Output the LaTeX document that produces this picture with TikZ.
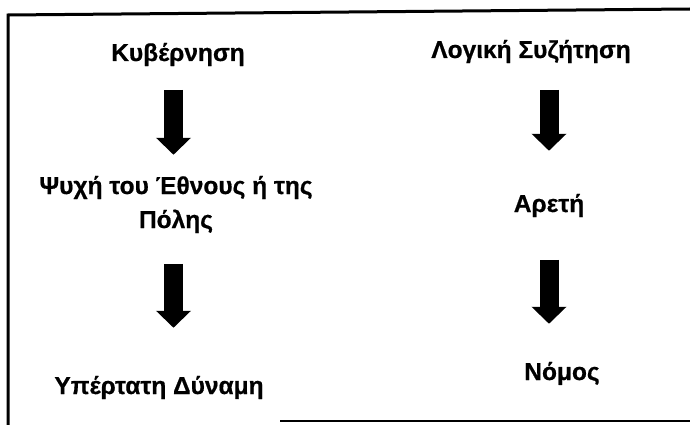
\documentclass[tikz,border=0pt]{standalone}
\usepackage{fontspec}
\setmainfont{Liberation Sans}[BoldFeatures={FakeBold=0.6}]
\usetikzlibrary{arrows.meta,positioning}

\begin{document}
\begin{tikzpicture}[x=1pt,y=-1pt,
    lbl/.style={font=\bfseries\fontsize{24.5}{34}\selectfont,inner sep=0pt,align=center,anchor=base},
    fatarrow/.style={line width=19pt,-{Triangle[length=17pt,width=34pt]}}]
    \useasboundingbox (0,0) rectangle (690,425);
    % frame
    \draw[line width=3pt] (8,425) -- (8,15) -- (690,9);
    \draw[line width=2pt] (280,421) -- (690,421);
    % columns
    \coordinate (colL) at (173.5,0);
    \coordinate (colR) at (549,0);
    % left
    \node[lbl] (kyb) at (178,61) {Κυβέρνηση};
    \node[lbl] (psy) at (176,228) {Ψυχή του Έθνους ή της\\Πόλης};
    \node[lbl] (ypd) at (159,394) {Υπέρτατη Δύναμη};
    % right
    \node[lbl] (log) at (531,58) {Λογική Συζήτηση};
    \node[lbl] (are) at (549,212) {Αρετή};
    \node[lbl] (nom) at (562,380) {Νόμος};
    % arrows
    \draw[fatarrow,shorten <=23.5pt,shorten >=21pt] (kyb.south -| colL) -- (psy.north -| colL);
    \draw[fatarrow,shorten <=30.5pt,shorten >=48pt] (psy.south -| colL) -- (ypd.north -| colL);
    \draw[fatarrow,shorten <=26.5pt,shorten >=43pt] (log.south -| colR) -- (are.north -| colR);
    \draw[fatarrow,shorten <=42.5pt,shorten >=38pt] (are.south -| colR) -- (nom.north -| colR);
\end{tikzpicture}
\end{document}
